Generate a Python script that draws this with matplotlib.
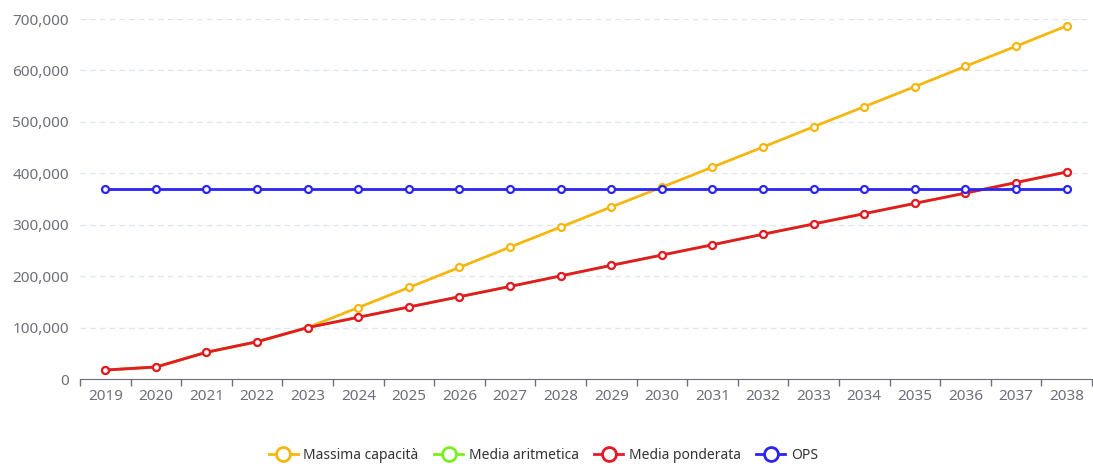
import numpy as np
import matplotlib.pyplot as plt
from matplotlib.ticker import FuncFormatter, FixedLocator
from matplotlib.lines import Line2D

plt.rcParams['font.family'] = ['Noto Sans', 'DejaVu Sans']

# dati
anni = [str(a) for a in range(2019, 2039)]
massima_capacita = [17500, 23300, 52000, 72500, 100000, 139000, 178000, 217000, 256500, 295500,
                    334500, 373000, 412000, 451000, 490500, 529500, 568500, 608000, 647000, 686500]
media_aritmetica = [17500, 23300, 52000, 72500, 100000, 120000, 140000, 160000, 180000, 200500,
                    221000, 241000, 261000, 281500, 301500, 321500, 341500, 361500, 382000, 402500]
media_ponderata = [17500, 23300, 52000, 72500, 100000, 120000, 140000, 160000, 180000, 200500,
                   221000, 241000, 261000, 281500, 301500, 321500, 341500, 361500, 382000, 402500]
ops = [370000] * 20

serie = [
    ('Massima capacità', massima_capacita, '#f5b70f'),
    ('Media aritmetica', media_aritmetica, '#7bef1c'),
    ('Media ponderata', media_ponderata, '#e8172a'),
    ('OPS', ops, '#2a24f5'),
]

fig = plt.figure(figsize=(10.93, 4.67), dpi=100)
ax = fig.add_axes([0.0732, 0.1884, 0.9258, 0.7709])

x = np.arange(len(anni))
for nome, valori, colore in serie:
    ax.plot(x, valori, color=colore, lw=2, marker='o', ms=5, mew=1.6,
            mfc='white', mec=colore, zorder=3)

ax.set_xlim(-0.5, len(anni) - 0.5)
ax.set_ylim(0, 700000)
ax.set_yticks(np.arange(0, 700001, 100000))
ax.yaxis.set_major_formatter(FuncFormatter(lambda v, p: f'{int(v):,}'))
ax.grid(axis='y', color='#e0e6f1', ls=(0, (4, 3)), lw=1)
ax.set_axisbelow(True)

# tick sui bordi delle categorie, etichette al centro
ax.set_xticks(x)
ax.set_xticklabels(anni)
ax.xaxis.set_minor_locator(FixedLocator(np.arange(-0.5, len(anni), 1)))
ax.tick_params(axis='x', which='major', length=0, pad=7, labelsize=11, colors='#6e7079')
ax.tick_params(axis='x', which='minor', length=5, width=1, color='#6e7079')
ax.tick_params(axis='y', length=0, pad=8, labelsize=11, colors='#6e7079')

for s in ['top', 'right', 'left']:
    ax.spines[s].set_visible(False)
ax.spines['bottom'].set_color('#6e7079')

handles = [Line2D([], [], color=c, lw=2, marker='o', ms=10, mew=2, mfc='white', mec=c)
           for _, _, c in serie]
fig.legend(handles, [s[0] for s in serie], loc='center', bbox_to_anchor=(0.497, 0.025),
           ncol=4, frameon=False, fontsize=10, handlelength=2.1, handletextpad=0.4,
           columnspacing=1.1, labelcolor='#333333')

fig.savefig('out.png', dpi=100)
